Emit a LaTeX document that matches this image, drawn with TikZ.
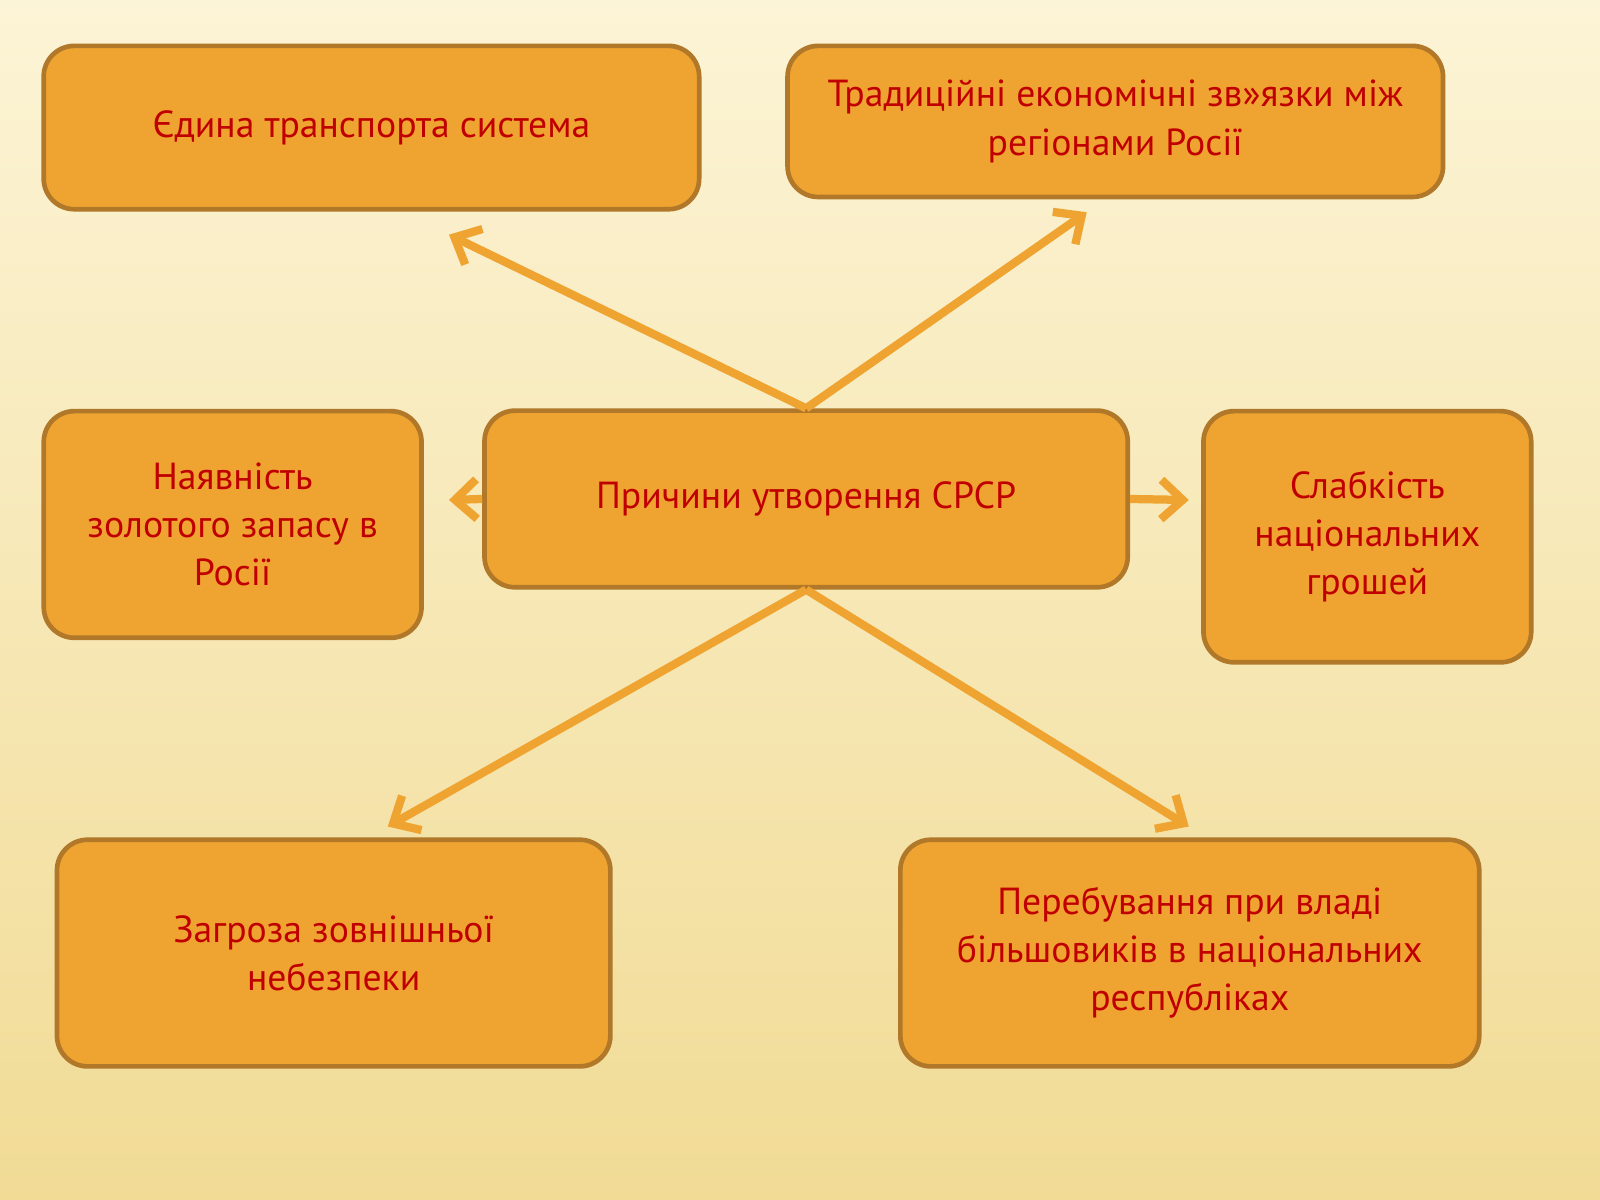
\documentclass[tikz,border=0pt]{standalone}
\usepackage{fontspec}
\setmainfont{PT Sans}
\usetikzlibrary{arrows.meta}
\definecolor{boxfill}{HTML}{EFA431}
\definecolor{boxline}{HTML}{B07828}
\definecolor{txtred}{HTML}{C00000}
\definecolor{bgtop}{HTML}{FCF4D6}
\definecolor{bgbot}{HTML}{F1DB95}
\begin{document}
\begin{tikzpicture}[x=0.01cm,y=-0.01cm,
    cause/.style={draw=boxline,line width=1.3pt,fill=boxfill,rounded corners=0.3cm,
      text=txtred,align=center,font=\fontsize{10.5}{13.4}\selectfont,inner sep=0pt},
    arr/.style={draw=boxfill,line width=2.3pt,-{Straight Barb[length=6pt,width=11pt]}}]
    % background
    \shade[top color=bgtop,bottom color=bgbot] (0,0) rectangle (1568,1176);
    \useasboundingbox (0,0) rectangle (1568,1176);

    % the boxes
    \node [cause,minimum width=6.42cm,minimum height=1.6cm] at (364,125) (edyna) {Єдина транспорта система};
    \node [cause,minimum width=6.42cm,minimum height=1.48cm] at (1093,119) (zviazky) {Традиційні економічні зв»язки між\\регіонами Росії};
    \node [cause,minimum width=3.7cm,minimum height=2.22cm] at (228,514) (zoloto) {Наявність\\золотого запасу в\\Росії};
    \node [cause,minimum width=6.3cm,minimum height=1.73cm] at (790,489) (prychyny) {Причини утворення СРСР};
    \node [cause,minimum width=3.21cm,minimum height=2.46cm] at (1340,526) (hroshi) {Слабкість\\національних\\грошей};
    \node [cause,minimum width=5.42cm,minimum height=2.22cm] at (327,934) (zahroza) {Загроза зовнішньої\\небезпеки};
    \node [cause,minimum width=5.67cm,minimum height=2.22cm] at (1166,934) (bilshovyky) {Перебування при владі\\більшовиків  в національних\\республіках};

    % arrow ends
    \coordinate (e1) at (440,230);
    \coordinate (e2) at (1065,208);
    \coordinate (e3) at (440,490);
    \coordinate (e4) at (1165,490);
    \coordinate (e5) at (380,810);
    \coordinate (e6) at (1165,810);

    \draw[arr] (prychyny.north) -- (e1);
    \draw[arr] (prychyny.north) -- (e2);
    \draw[arr] (prychyny.west) -- (e3);
    \draw[arr] (prychyny.east) -- (e4);
    \draw[arr] (prychyny.south) -- (e5);
    \draw[arr] (prychyny.south) -- (e6);
\end{tikzpicture}
\end{document}
